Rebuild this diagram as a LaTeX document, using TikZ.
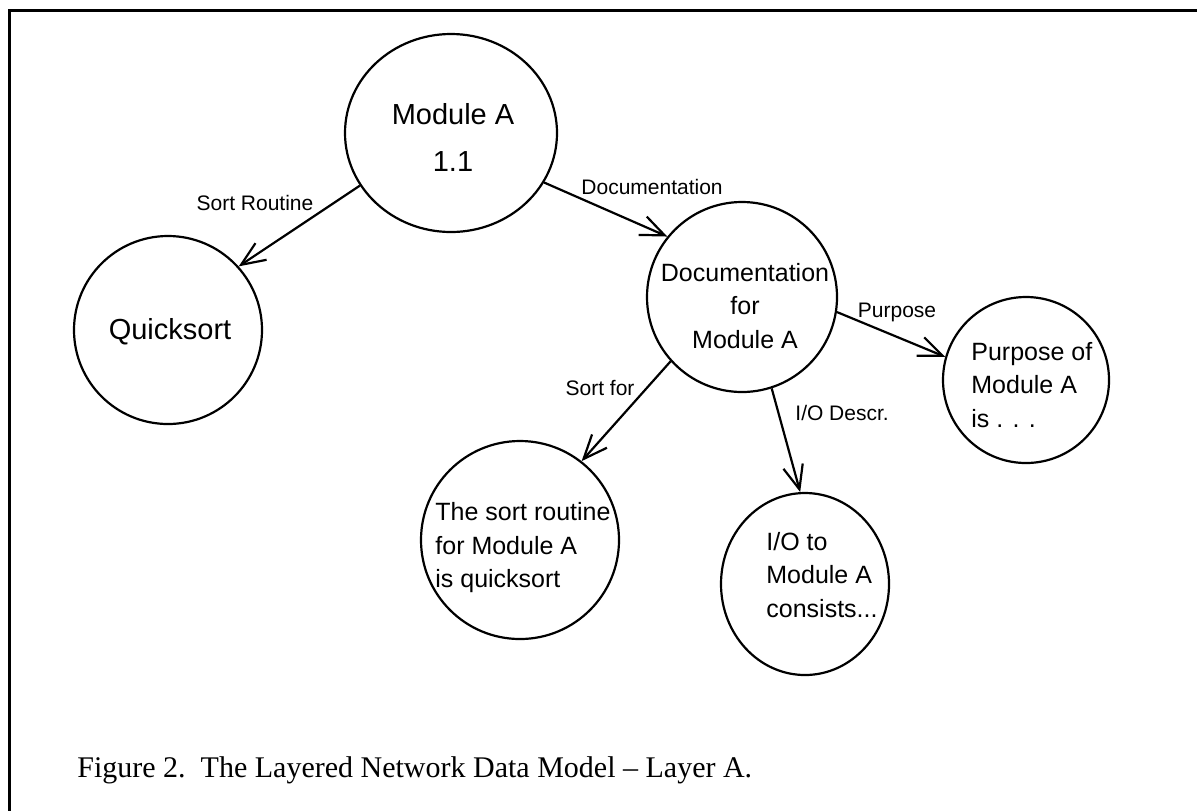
\documentclass[tikz,border=0pt]{standalone}
\usepackage{fontspec}
\setmainfont{Liberation Serif}
\setsansfont{Liberation Sans}
\usetikzlibrary{arrows.meta,shapes.geometric}
\begin{document}
\begin{tikzpicture}[x=0.5pt,y=-0.5pt,
  bubble/.style={draw,line width=1.1pt,circle,inner sep=0pt,minimum size=#1},
  oval/.style={draw,line width=1.1pt,ellipse,inner sep=0pt},
  bigtxt/.style={font=\sffamily\fontsize{14.5}{23.5}\selectfont,inner sep=0pt,align=center},
  txt/.style={font=\sffamily\fontsize{12.5}{16.75}\selectfont,inner sep=0pt},
  elabel/.style={font=\sffamily\fontsize{10.5}{12}\selectfont,inner sep=0pt},
  arr/.style={line width=1.1pt,-{Straight Barb[length=12pt,width=10pt,line width=1.1pt]}},
  frame/.style={line width=1.5pt}]
\useasboundingbox (0,0) rectangle (1197,810);
\clip (0,0) rectangle (1197,810);
% frame
\coordinate (ftl) at (9,10);
\coordinate (fbl) at (9,812);
\coordinate (ftr) at (1199,10);
\draw[frame] (fbl) -- (ftl) -- (ftr);
% nodes
\node[oval,minimum width=212*0.5pt,minimum height=198*0.5pt] (modA) at (451,133) {};
\node[bubble=94pt] (quick) at (168,330) {};
\node[bubble=95pt] (doc) at (742,297) {};
\node[bubble=83pt] (purp) at (1026,380) {};
\node[bubble=99pt] (sortr) at (520,540) {};
\node[oval,minimum width=168*0.5pt,minimum height=182*0.5pt] (io) at (805,584) {};
% texts
\node[bigtxt] (tmodA) at (453,137) {Module A\\1.1};
\node[bigtxt] (tquick) at (170,332) {Quicksort};
\node[txt,align=center] (tdoc) at (745,306) {Documentation\\for\\Module A};
\node[txt,align=left,anchor=west] (tpurp) at (971,385) {Purpose of\\Module A\\is . . .};
\node[txt,align=left,anchor=west] (tsortr) at (435,548) {The sort routine\\for Module A\\is quicksort};
\node[txt,align=left,anchor=west] (tio) at (766,575) {I/O to\\Module A\\consists...};
% connectors
\draw[arr] (modA.-150) -- (quick.42);
\draw[arr] (modA.-28.4) -- (doc.141.8);
\draw[arr] (doc.-9.9) -- (purp.164.8);
\draw[arr] (doc.222.9) -- (sortr.52.3);
\draw[arr] (doc.-72.3) -- (io.93.8);
% edge labels
\node[elabel] (lsr) at (255,203) {Sort Routine};
\node[elabel,anchor=west] (ldoc) at (581,187) {Documentation};
\node[elabel] (lpurp) at (897,312) {Purpose};
\node[elabel] (lsf) at (600,388) {Sort for};
\node[elabel,anchor=west] (lio) at (795,413) {I/O Descr.};
% caption
\node[font=\fontsize{15}{18}\selectfont,anchor=west,inner sep=0pt] (cap) at (77,770) {Figure 2.\ \ The Layered Network Data Model -- Layer A.};
\end{tikzpicture}
\end{document}
